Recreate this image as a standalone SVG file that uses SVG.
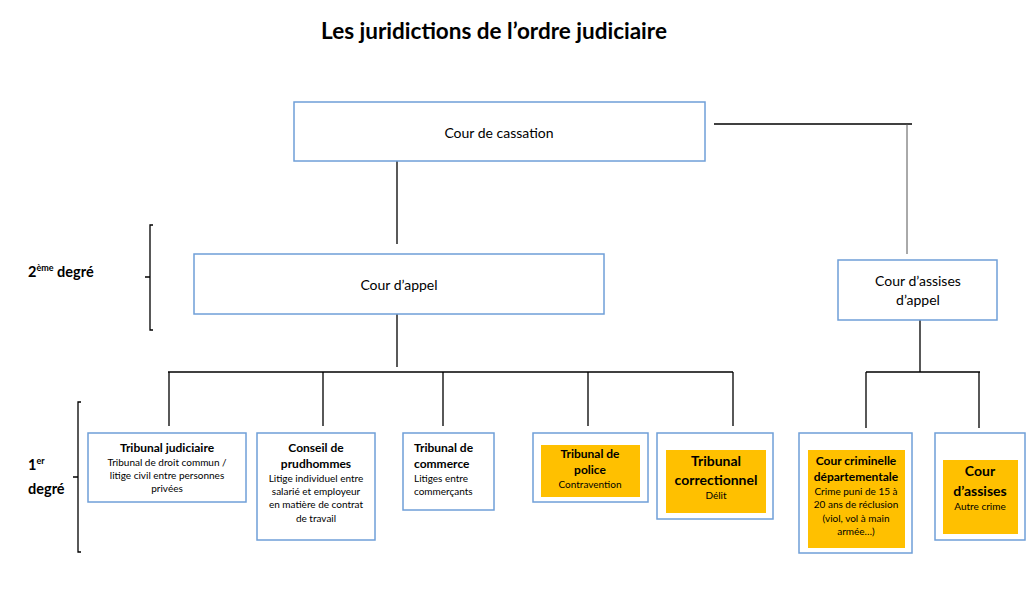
<svg xmlns="http://www.w3.org/2000/svg" width="1035" height="594" viewBox="0 0 1035 594">
<style>
text{font-family:Lato,"Open Sans","Liberation Sans",sans-serif;fill:#000}
.box{fill:#fff;stroke:#6f9fd8;stroke-width:1.5}
.org{fill:#ffc000;stroke:none}
.ln{stroke:#000;stroke-width:1.3;fill:none}
.gl{stroke:#555;stroke-width:1;fill:none}
.c{text-anchor:middle}
.b{font-weight:bold}
.m{font-size:15px}
.s{font-size:10px}
.h{font-size:12px;font-weight:bold}
</style>
<rect width="1035" height="594" fill="#fff"/>
<text x="494" y="39" class="c b" font-size="22.5">Les juridictions de l’ordre judiciaire</text>

<g id="connectors">
<path class="ln" d="M397 161V244"/>
<path class="ln" d="M714 124H912"/>
<path class="gl" d="M907 124V254"/>
<path class="ln" d="M397 314V367"/>
<path class="ln" d="M168 372H733"/>
<path class="ln" d="M169 372V426M323 372V426M443 372V426M588 372V426M733 372V426"/>
<path class="ln" d="M920 320V372M866 372H980M866 372V428M979 372V428"/>
</g>

<g id="brackets">
<path class="ln" d="M153 225H150V330H153M150 277H145"/>
<path class="ln" d="M81 402H78V552H81M78 477H73"/>
<text x="28" y="277" class="b" font-size="14.5">2<tspan font-size="9" dy="-6">ème</tspan><tspan dy="6"> degré</tspan></text>
<text x="28" y="470" class="b" font-size="14.5">1<tspan font-size="9" dy="-6">er</tspan></text>
<text x="28" y="494" class="b" font-size="14.5">degré</text>
</g>

<g id="cassation">
<rect class="box" x="294" y="102" width="411" height="59"/>
<text x="499" y="138" class="c" font-size="14">Cour de cassation</text>
</g>

<g id="appel">
<rect class="box" x="194" y="254" width="410" height="60"/>
<text x="399" y="290" class="c" font-size="14">Cour d’appel</text>
</g>

<g id="assises-appel">
<rect class="box" x="838" y="260" width="159" height="60"/>
<text x="918" y="286" class="c" font-size="14">Cour d’assises</text>
<text x="918" y="305" class="c" font-size="14">d’appel</text>
</g>

<g id="tribunal-judiciaire">
<rect class="box" x="88" y="433" width="158" height="69"/>
<text x="167" y="452" class="c h">Tribunal judiciaire</text>
<text x="167" y="466" class="c s">Tribunal de droit commun /</text>
<text x="167" y="479" class="c s">litige civil entre personnes</text>
<text x="167" y="492" class="c s">privées</text>
</g>

<g id="prudhommes">
<rect class="box" x="257" y="433" width="118" height="107"/>
<text x="316" y="452" class="c h">Conseil de</text>
<text x="316" y="468" class="c h">prudhommes</text>
<text x="316" y="482" class="c s">Litige individuel entre</text>
<text x="316" y="495" class="c s">salarié et employeur</text>
<text x="316" y="508" class="c s">en matière de contrat</text>
<text x="316" y="522" class="c s">de travail</text>
</g>

<g id="commerce">
<rect class="box" x="403" y="433" width="91" height="77"/>
<text x="414" y="452" class="h">Tribunal de</text>
<text x="414" y="468" class="h">commerce</text>
<text x="414" y="482" class="s">Litiges entre</text>
<text x="414" y="495" class="s">commerçants</text>
</g>

<g id="police">
<rect class="box" x="533" y="433" width="115" height="69"/>
<rect class="org" x="541" y="445" width="99" height="52"/>
<text x="590" y="458" class="c h">Tribunal de</text>
<text x="590" y="474" class="c h">police</text>
<text x="590" y="488" class="c s">Contravention</text>
</g>

<g id="correctionnel">
<rect class="box" x="657" y="433" width="116" height="86"/>
<rect class="org" x="666" y="450" width="100" height="63"/>
<text x="716" y="466" class="c b" font-size="14">Tribunal</text>
<text x="716" y="485" class="c b" font-size="14">correctionnel</text>
<text x="716" y="499" class="c s">Délit</text>
</g>

<g id="cour-criminelle">
<rect class="box" x="799" y="433" width="113" height="120"/>
<rect class="org" x="808" y="450" width="97" height="98"/>
<text x="856" y="465" class="c h">Cour criminelle</text>
<text x="856" y="481" class="c h">départementale</text>
<text x="856" y="495" class="c s">Crime puni de 15 à</text>
<text x="856" y="508" class="c s">20 ans de réclusion</text>
<text x="856" y="522" class="c s">(viol, vol à  main</text>
<text x="856" y="535" class="c s">armée…)</text>
</g>

<g id="cour-assises">
<rect class="box" x="935" y="433" width="90" height="107"/>
<rect class="org" x="943" y="460" width="75" height="74"/>
<text x="980" y="476" class="c b" font-size="14">Cour</text>
<text x="980" y="496" class="c b" font-size="14">d’assises</text>
<text x="980" y="510" class="c s">Autre crime</text>
</g>
</svg>
